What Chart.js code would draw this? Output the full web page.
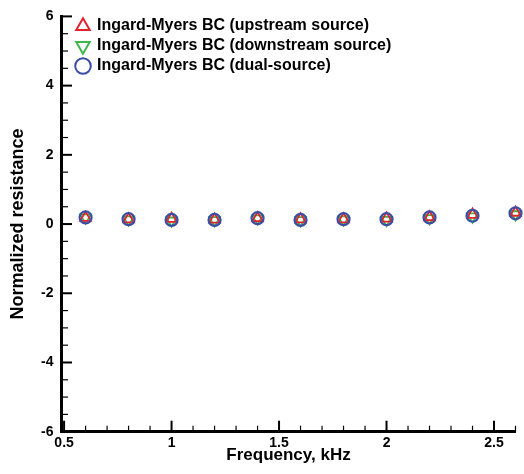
<!DOCTYPE html>
<html>
<head>
<meta charset="utf-8">
<title>Normalized resistance</title>
<script src="https://cdn.jsdelivr.net/npm/chart.js@4/dist/chart.umd.min.js"></script>
<style>
  html, body { margin: 0; padding: 0; background: #fff; }
  #wrap { width: 524px; height: 474px; }
</style>
</head>
<body>
<div id="wrap"><canvas id="chart" width="524" height="474"></canvas></div>
<script>
// Frequencies (kHz) and normalized resistance for each source configuration
const frequency = [0.6, 0.8, 1.0, 1.2, 1.4, 1.6, 1.8, 2.0, 2.2, 2.4, 2.6];
const upstream = [0.18, 0.14, 0.15, 0.13, 0.17, 0.14, 0.14, 0.16, 0.20, 0.27, 0.33];
const downstream = [0.19, 0.13, 0.10, 0.11, 0.16, 0.11, 0.13, 0.12, 0.17, 0.22, 0.28];
const dualSource = [0.19, 0.14, 0.12, 0.12, 0.17, 0.12, 0.14, 0.14, 0.19, 0.24, 0.31];

const seriesNames = [
    'Ingard-Myers BC (upstream source)',
    'Ingard-Myers BC (downstream source)',
    'Ingard-Myers BC (dual-source)'
];

const xTicks = [0.5, 1, 1.5, 2, 2.5];
const yTicks = [-6, -4, -2, 0, 2, 4, 6];

const FONT = "'Liberation Sans', Arial, Helvetica, sans-serif";
const RED = '#e3232c';
const GREEN = '#3db84a';
const BLUE = '#3b4ea6';

const toPoints = (ys) => ys.map((v, i) => ({ x: frequency[i], y: v }));

// Tecplot-style tick marks pointing into the plot area
const insideTicks = {
    id: 'insideTicks',
    afterDraw(chart) {
        const { ctx, scales: { x, y } } = chart;
        const left = chart.chartArea.left;
        const bottom = chart.chartArea.bottom;
        ctx.save();
        ctx.strokeStyle = '#000';

        // y axis: minor every 0.5, major on labelled values
        for (let i = 0; i <= 24; i++) {
            const v = -6 + i * 0.5;
            const py = y.getPixelForValue(v);
            const major = yTicks.includes(v);
            ctx.lineWidth = major ? 2 : 1.2;
            ctx.beginPath();
            ctx.moveTo(left, py);
            ctx.lineTo(left + (major ? 10.5 : 6.5), py);
            ctx.stroke();
        }

        // x axis: minor every 0.1
        for (let i = 0; i <= 21; i++) {
            const v = Math.round((0.5 + i * 0.1) * 10) / 10;
            const px = x.getPixelForValue(v);
            const major = xTicks.includes(v);
            ctx.lineWidth = major ? 2 : 1.2;
            ctx.beginPath();
            ctx.moveTo(px, bottom);
            ctx.lineTo(px, bottom - (major ? 11 : 6));
            ctx.stroke();
        }
        ctx.restore();
    }
};

// nudge the in-plot legend into the upper left corner
const legendNudge = {
    id: 'legendNudge',
    afterLayout(chart) {
        if (chart.legend) {
            chart.legend.left += 11.5;
            chart.legend.top += 14;
        }
    }
};

const ctx = document.getElementById('chart');
new Chart(ctx, {
    type: 'scatter',
    data: {
        datasets: [
            {
                label: seriesNames[0],
                data: toPoints(upstream),
                order: 1,
                pointStyle: 'triangle',
                pointRadius: 6.2,
                pointBorderWidth: 1.8,
                borderColor: RED,
                backgroundColor: 'rgba(0,0,0,0)',
                clip: false
            },
            {
                label: seriesNames[1],
                data: toPoints(downstream),
                order: 2,
                pointStyle: 'triangle',
                pointRotation: 180,
                pointRadius: 6.2,
                pointBorderWidth: 1.8,
                borderColor: GREEN,
                backgroundColor: 'rgba(0,0,0,0)',
                clip: false
            },
            {
                label: seriesNames[2],
                data: toPoints(dualSource),
                order: 0,
                pointStyle: 'circle',
                pointRadius: 6,
                pointBorderWidth: 2.2,
                borderColor: BLUE,
                backgroundColor: 'rgba(0,0,0,0)',
                clip: false
            }
        ]
    },
    options: {
        responsive: false,
        animation: false,
        layout: { padding: { top: 15, right: 8.5, left: 0, bottom: 0 } },
        plugins: {
            legend: {
                position: 'chartArea',
                align: 'start',
                labels: {
                    usePointStyle: true,
                    boxWidth: 12,
                    boxHeight: 11,
                    padding: 4,
                    color: '#000',
                    font: { family: FONT, size: 16, weight: 'bold' },
                    sort: (a, b) => a.datasetIndex - b.datasetIndex,
                    generateLabels(chart) {
                        const items = Chart.defaults.plugins.legend.labels.generateLabels(chart);
                        items.forEach(item => { item.lineWidth = 2; });
                        return items;
                    }
                }
            },
            tooltip: { enabled: false }
        },
        scales: {
            x: {
                type: 'linear',
                min: 0.488,
                max: 2.6,
                afterFit(scale) { scale.height = 42.3; },
                afterBuildTicks(scale) { scale.ticks = xTicks.map(v => ({ value: v })); },
                grid: { display: false, drawTicks: false },
                border: { display: true, color: '#000', width: 3 },
                ticks: {
                    autoSkip: false,
                    maxRotation: 0,
                    padding: 3,
                    color: '#000',
                    font: { family: FONT, size: 14, weight: 'bold' },
                    callback: (v) => String(v)
                },
                title: {
                    display: true,
                    text: 'Frequency, kHz',
                    color: '#000',
                    padding: { top: 0, bottom: 8 },
                    font: { family: FONT, size: 17, weight: 'bold' }
                }
            },
            y: {
                type: 'linear',
                min: -6,
                max: 6,
                afterFit(scale) { scale.width = 61.5; },
                afterBuildTicks(scale) { scale.ticks = yTicks.map(v => ({ value: v })); },
                grid: { display: false, drawTicks: false },
                border: { display: true, color: '#000', width: 3 },
                ticks: {
                    padding: 8,
                    color: '#000',
                    font: { family: FONT, size: 14, weight: 'bold' },
                    callback: (v) => String(v)
                },
                title: {
                    display: true,
                    text: 'Normalized resistance',
                    color: '#000',
                    padding: { top: 7, bottom: 0 },
                    font: { family: FONT, size: 18, weight: 'bold' }
                }
            }
        }
    },
    plugins: [insideTicks, legendNudge]
});
</script>
</body>
</html>
